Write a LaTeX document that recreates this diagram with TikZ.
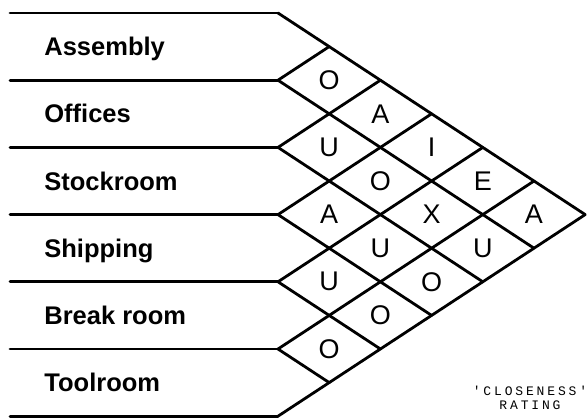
\documentclass[tikz,border=0pt]{standalone}
\usepackage{fontspec}
\setmainfont{Liberation Sans}
\newfontfamily\ratingfont[LetterSpace=22]{Liberation Mono}
\usetikzlibrary{positioning}

\begin{document}
\begin{tikzpicture}[x=1pt, y=-1pt, line width=2.8pt, line cap=round,
    dept/.style={anchor=base west, inner sep=0pt, font=\fontsize{25.5}{26}\selectfont\bfseries},
    rel/.style={inner sep=0pt, font=\fontsize{27}{27}\selectfont}]
    \useasboundingbox (0,0) rectangle (587,418);

    % row boundaries and diamond grid corners
    \foreach \k in {0,...,6} {
        \coordinate (l\k) at (10,{13+67.2*\k});
        \coordinate (c\k) at (278,{13+67.2*\k});
        \coordinate (dn\k) at ({278+51.2*(6-\k)},{13+67.2*\k+33.6*(6-\k)});
        \coordinate (up\k) at ({278+51.2*\k},{13+67.2*\k-33.6*\k});
    }
    \foreach \k in {0,...,6} \draw (l\k) -- (c\k);
    \foreach \k in {0,...,5} \draw (c\k) -- (dn\k);
    \foreach \k in {1,...,6} \draw (up\k) -- (c\k);

    % departments
    \foreach \i/\name/\txt in {1/assembly/Assembly, 2/offices/Offices, 3/stockroom/Stockroom,
                               4/shipping/Shipping, 5/breakroom/Break room, 6/toolroom/Toolroom}
        \node[dept] (\name) at (43,{13+67.2*\i-33.6+9}) {\txt};

    % closeness ratings
    \foreach \i/\j/\r in {1/2/O, 1/3/A, 1/4/I, 1/5/E, 1/6/A,
                          2/3/U, 2/4/O, 2/5/X, 2/6/U,
                          3/4/A, 3/5/U, 3/6/O,
                          4/5/U, 4/6/O,
                          5/6/O}
        \node[rel] (r\i\j) at ({278+51.2*(\j-\i)},{13+33.6*(\i+\j-1)}) {\r};

    \node[font=\ratingfont\fontsize{13}{14}\selectfont, align=center, inner sep=0pt] (legend) at (530,398)
        {'CLOSENESS'\\RATING};
\end{tikzpicture}
\end{document}
